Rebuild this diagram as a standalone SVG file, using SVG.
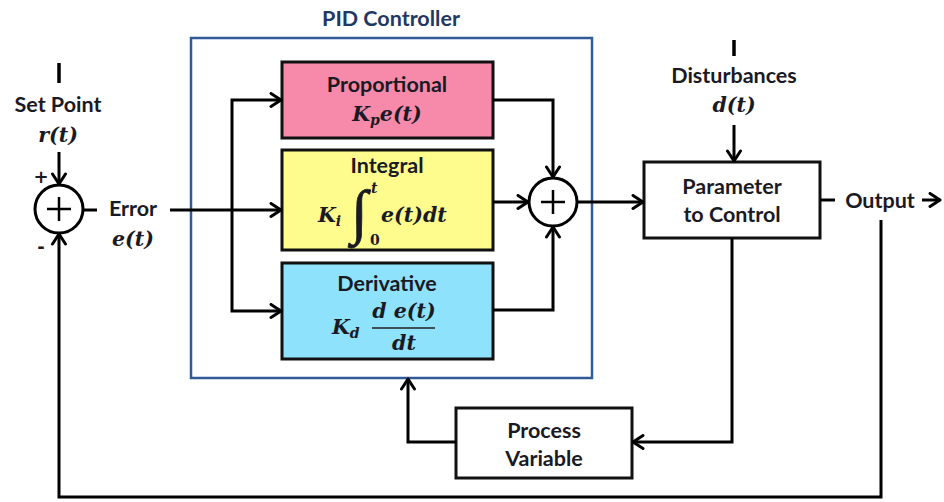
<svg xmlns="http://www.w3.org/2000/svg" width="944" height="502" viewBox="0 0 944 502">
  <defs>
    <marker id="arrow" markerUnits="userSpaceOnUse" markerWidth="16" markerHeight="18" refX="12" refY="8" orient="auto">
      <path d="M2,1.5 L12,8 L2,14.5" fill="none" stroke="#000" stroke-width="3" stroke-linecap="round" stroke-linejoin="round"/>
    </marker>
    <style>
      .box { stroke: #111; stroke-width: 3; }
      .wire { fill: none; stroke: #000; stroke-width: 3; }
      .lbl { font-family: Lato, "Open Sans", "Liberation Sans", sans-serif; font-weight: 700; font-size: 21.5px; fill: #1a1a24; text-anchor: middle; }
      .math { font-family: "DejaVu Serif", "Liberation Serif", serif; font-weight: 700; font-style: italic; font-size: 20.5px; fill: #1a1a24; }
      .sub { font-size: 14px; }
      .sym { font-family: "DejaVu Sans", "Liberation Sans", sans-serif; font-weight: 700; font-size: 18px; fill: #1a1a24; }
    </style>
  </defs>

  <!-- PID controller frame -->
  <g id="pid-controller">
    <rect x="191" y="38" width="401" height="340" fill="#fff" stroke="#2f5b98" stroke-width="2.5"/>
    <text x="391" y="26" class="lbl" style="fill:#1f3864">PID Controller</text>
  </g>

  <g id="proportional">
    <rect x="282" y="62" width="211" height="76" fill="#f78aab" class="box"/>
    <text x="387" y="92" class="lbl">Proportional</text>
    <text x="387" y="121" class="math" text-anchor="middle">K<tspan class="sub" dy="4">p</tspan><tspan dy="-4">e(t)</tspan></text>
  </g>

  <g id="integral">
    <rect x="282" y="150" width="211" height="100" fill="#fdfc8c" class="box"/>
    <text x="387" y="173" class="lbl">Integral</text>
    <text x="318" y="222" class="math">K<tspan class="sub" dy="4">i</tspan></text>
    <text x="351" y="232" font-family="'Liberation Serif', serif" font-size="60" fill="#1a1a24" stroke="#1a1a24" stroke-width="0.8">∫</text>
    <text x="371" y="193" class="math sub">t</text>
    <text x="370" y="245" class="math sub" style="font-style:normal">0</text>
    <text x="381" y="222" class="math">e(t)dt</text>
  </g>

  <g id="derivative">
    <rect x="282" y="263" width="211" height="96" fill="#8ee2fb" class="box"/>
    <text x="387" y="291" class="lbl">Derivative</text>
    <text x="332" y="334" class="math">K<tspan class="sub" dy="4">d</tspan></text>
    <text x="404" y="318" class="math" text-anchor="middle">d e(t)</text>
    <line x1="372" y1="328" x2="435" y2="328" stroke="#222" stroke-width="1.5"/>
    <text x="404" y="350" class="math" text-anchor="middle">dt</text>
  </g>

  <g id="input-sum">
    <circle cx="59" cy="209" r="24" fill="#fff" stroke="#000" stroke-width="3"/>
    <path d="M47,209 H71 M59,197 V221" stroke="#000" stroke-width="2.5"/>
    <text x="41" y="183" class="sym" text-anchor="middle">+</text>
    <text x="41" y="253" class="sym" text-anchor="middle">-</text>
  </g>

  <g id="output-sum">
    <circle cx="553" cy="202" r="24" fill="#fff" stroke="#000" stroke-width="3"/>
    <path d="M541,202 H565 M553,190 V214" stroke="#000" stroke-width="2.5"/>
  </g>

  <g id="set-point">
    <line x1="59" y1="63" x2="59" y2="83" stroke="#000" stroke-width="3.5"/>
    <text x="58" y="112" class="lbl">Set Point</text>
    <text x="58" y="142" class="math" text-anchor="middle">r(t)</text>
  </g>

  <g id="error-label">
    <text x="133" y="216" class="lbl">Error</text>
    <text x="133" y="246" class="math" text-anchor="middle">e(t)</text>
  </g>

  <g id="disturbances">
    <line x1="734" y1="40" x2="734" y2="56" stroke="#000" stroke-width="3.5"/>
    <text x="734" y="83" class="lbl">Disturbances</text>
    <text x="734" y="112" class="math" text-anchor="middle">d(t)</text>
  </g>

  <g id="parameter-to-control">
    <rect x="644" y="162" width="176" height="76" fill="#fff" class="box"/>
    <text x="732" y="194" class="lbl">Parameter</text>
    <text x="732" y="222" class="lbl">to Control</text>
  </g>

  <g id="process-variable">
    <rect x="456" y="408" width="176" height="70" fill="#fff" class="box"/>
    <text x="544" y="438" class="lbl">Process</text>
    <text x="544" y="466" class="lbl">Variable</text>
  </g>

  <g id="output-label">
    <text x="880" y="208" class="lbl">Output</text>
  </g>

  <!-- connectors -->
  <g id="connectors">
    <!-- set point into input sum -->
    <path d="M59,152 V184" class="wire" marker-end="url(#arrow)"/>
    <!-- error out of input sum -->
    <path d="M83,210 H97" class="wire"/>
    <path d="M170,210 H281" class="wire" marker-end="url(#arrow)"/>
    <!-- branch to proportional and derivative -->
    <path d="M232,210 V100 H281" class="wire" marker-end="url(#arrow)"/>
    <path d="M232,210 V311 H281" class="wire" marker-end="url(#arrow)"/>
    <!-- terms into output sum -->
    <path d="M493,100 H553 V177" class="wire" marker-end="url(#arrow)"/>
    <path d="M493,202 H528" class="wire" marker-end="url(#arrow)"/>
    <path d="M493,310 H553 V227" class="wire" marker-end="url(#arrow)"/>
    <!-- controller output to plant -->
    <path d="M577,202 H643" class="wire" marker-end="url(#arrow)"/>
    <!-- disturbances into plant -->
    <path d="M734,125 V161" class="wire" marker-end="url(#arrow)"/>
    <!-- plant output -->
    <path d="M820,200 H835" class="wire"/>
    <path d="M922,200 H940" class="wire" marker-end="url(#arrow)"/>
    <!-- measured process variable -->
    <path d="M732,238 V442 H633" class="wire" marker-end="url(#arrow)"/>
    <path d="M456,442 H408 V379" class="wire" marker-end="url(#arrow)"/>
    <!-- main feedback loop -->
    <path d="M881,220 V497 H59 V234" class="wire" marker-end="url(#arrow)"/>
  </g>
</svg>
